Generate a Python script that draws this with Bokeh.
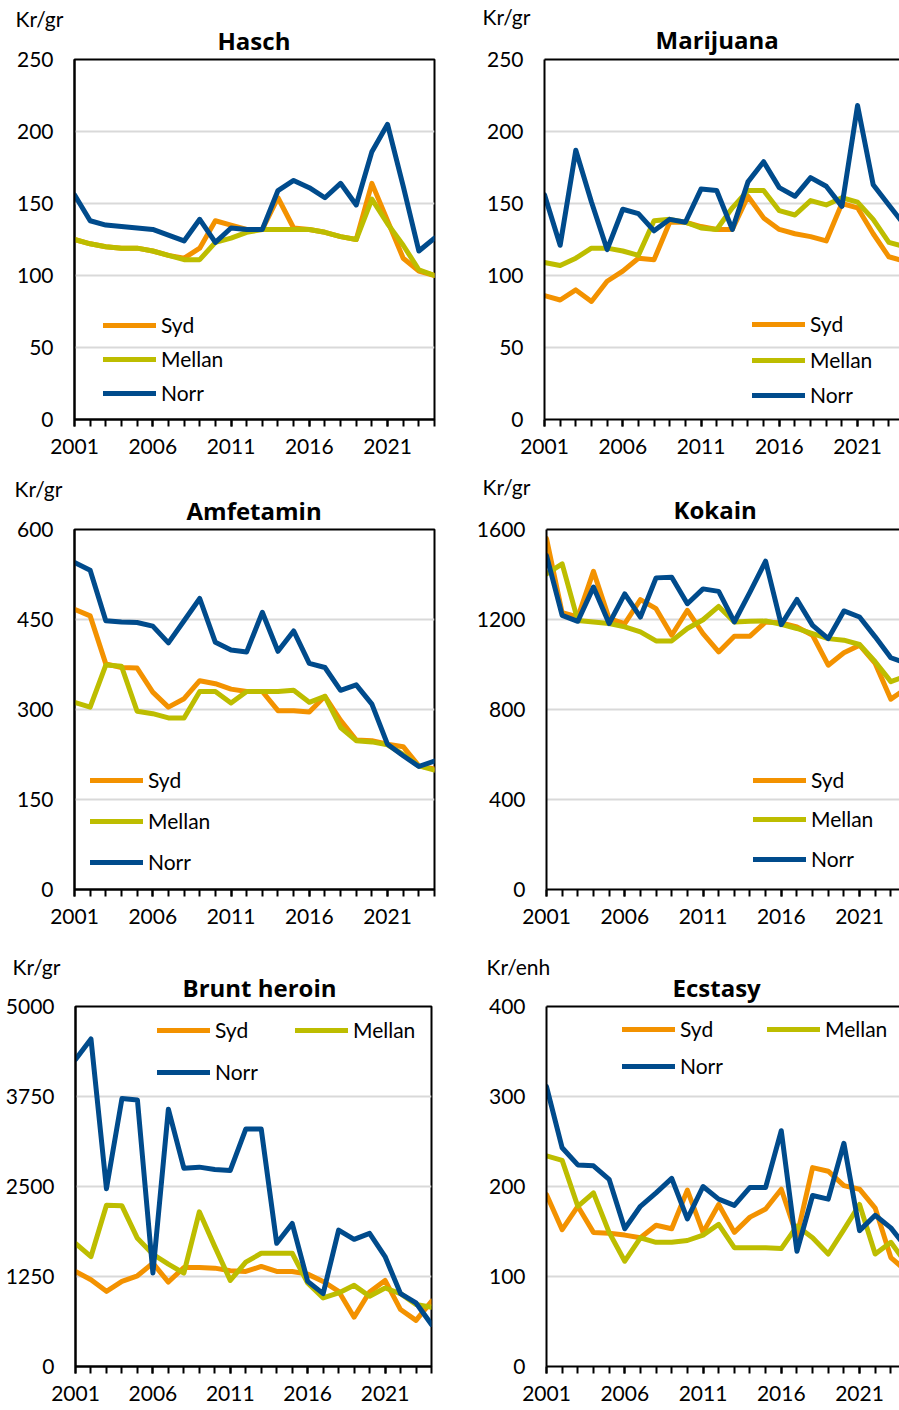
from bokeh.plotting import figure
from bokeh.models import Range1d, FixedTicker, Legend, LegendItem, LinearAxis, Title
from bokeh.layouts import column, row
from bokeh.embed import file_html
from bokeh.resources import INLINE

years = list(range(2001, 2025))
x_major = [2001, 2006, 2011, 2016, 2021]
series_names = ["Syd", "Mellan", "Norr"]

hasch_syd = [125, 122, 120, 119, 119, 117, 114, 112, 119, 138, 135, 132, 132, 154, 133, 132, 130, 127, 125, 164, 138, 112, 103, 100]
hasch_mellan = [125, 122, 120, 119, 119, 117, 114, 111, 111, 123, 126, 130, 132, 132, 132, 132, 130, 127, 125, 153, 136, 121, 104, 100]
hasch_norr = [156, 138, 135, 134, 133, 132, 128, 124, 139, 123, 133, 132, 132, 159, 166, 161, 154, 164, 149, 186, 205, 162, 117, 126]

mari_syd = [86, 83, 90, 82, 96, 103, 112, 111, 137, 137, 134, 132, 132, 155, 140, 132, 129, 127, 124, 150, 147, 129, 113, 110]
mari_mellan = [109, 107, 112, 119, 119, 117, 114, 138, 139, 137, 133, 132, 147, 159, 159, 145, 142, 152, 149, 154, 151, 139, 123, 120]
mari_norr = [156, 121, 187, 151, 118, 146, 143, 131, 139, 137, 160, 159, 132, 165, 179, 161, 155, 168, 162, 148, 218, 163, 149, 135]

amf_syd = [467, 456, 376, 370, 369, 329, 304, 318, 348, 343, 334, 330, 330, 298, 298, 296, 322, 282, 249, 248, 242, 238, 206, 201]
amf_mellan = [312, 304, 374, 372, 297, 293, 286, 286, 330, 330, 311, 330, 330, 330, 332, 312, 322, 270, 248, 246, 241, 225, 206, 199]
amf_norr = [545, 532, 448, 446, 445, 439, 411, 448, 485, 412, 399, 396, 462, 397, 431, 377, 370, 332, 341, 309, 242, 223, 205, 214]

kok_syd = [1560, 1230, 1211, 1414, 1204, 1182, 1288, 1248, 1130, 1241, 1137, 1056, 1126, 1126, 1189, 1185, 1167, 1130, 997, 1052, 1086, 1005, 846, 894]
kok_mellan = [1403, 1447, 1196, 1189, 1182, 1167, 1145, 1105, 1105, 1160, 1199, 1258, 1189, 1192, 1193, 1179, 1160, 1137, 1115, 1108, 1089, 1012, 924, 949]
kok_norr = [1484, 1218, 1192, 1344, 1182, 1314, 1211, 1385, 1388, 1270, 1336, 1325, 1189, 1322, 1459, 1177, 1289, 1174, 1115, 1238, 1211, 1123, 1030, 1005]

bh_syd = [1320, 1205, 1044, 1182, 1260, 1435, 1173, 1375, 1375, 1366, 1329, 1320, 1389, 1320, 1320, 1283, 1182, 1044, 685, 1035, 1196, 791, 640, 906]
bh_mellan = [1711, 1527, 2240, 2231, 1780, 1559, 1421, 1297, 2148, 1665, 1196, 1449, 1573, 1573, 1573, 1159, 952, 1021, 1127, 975, 1090, 1012, 860, 823]
bh_norr = [4264, 4549, 2470, 3721, 3703, 1297, 3574, 2755, 2769, 2737, 2723, 3298, 3298, 1711, 1987, 1182, 1012, 1895, 1766, 1849, 1527, 1012, 883, 584]

ecs_syd = [191, 152, 178, 149, 148, 146, 143, 157, 153, 196, 149, 180, 149, 166, 175, 197, 145, 221, 217, 201, 197, 176, 121, 106]
ecs_mellan = [234, 229, 178, 193, 149, 117, 143, 138, 138, 140, 146, 158, 132, 132, 132, 131, 156, 143, 125, 152, 180, 125, 138, 114]
ecs_norr = [311, 243, 224, 223, 208, 153, 178, 193, 209, 164, 200, 186, 179, 199, 199, 262, 128, 190, 186, 248, 151, 168, 154, 132]

COLORS = ["#F39200", "#BDBD00", "#004B8C"]
FONT = "Lato"
TITLE_FONT = "Open Sans"
PX_PER_YEAR = 360 / 23.0
UNIT_STANDOFF = -25


def make_panel(g, title, unit, yticks, data, leg, left_col, title_left, unit_x, t_standoff):
    bl = g["fl"] - g["cx"]
    bt = g["ft"] - g["cy"]
    br = g["cx"] + g["w"] - (g["fl"] + g["fw"])
    bb = g["cy"] + g["h"] - (g["ft"] + g["fh"])
    xend = 2024 if left_col else 2001 + g["fw"] / PX_PER_YEAR
    p = figure(width=g["w"], height=g["h"], output_backend="svg", toolbar_location=None,
               x_range=Range1d(2001, xend), y_range=Range1d(0, yticks[-1]),
               min_border_left=bl, min_border_top=bt, min_border_right=br, min_border_bottom=bb)
    p.background_fill_color = "white"
    p.border_fill_color = "white"
    if left_col:
        p.outline_line_color = "black"
        p.outline_line_width = 2
    else:
        p.outline_line_color = None
        top = LinearAxis(ticker=FixedTicker(ticks=[]), axis_line_color="black", axis_line_width=2,
                         major_tick_out=0, major_tick_in=0, minor_tick_out=0, minor_tick_in=0,
                         major_label_standoff=0, major_label_text_font_size="0px")
        p.add_layout(top, "above")
    p.xgrid.visible = False
    p.ygrid.ticker = FixedTicker(ticks=yticks)
    p.ygrid.grid_line_color = "#D9D9D9"
    p.ygrid.grid_line_width = 2

    xa = p.below[0]
    xa.ticker = FixedTicker(ticks=x_major, minor_ticks=years)
    xa.axis_line_color = "black"
    xa.axis_line_width = 2
    xa.major_tick_out = 7
    xa.major_tick_in = 0
    xa.minor_tick_out = 7
    xa.minor_tick_in = 0
    xa.major_tick_line_width = 2
    xa.minor_tick_line_width = 2
    xa.major_tick_line_color = "black"
    xa.minor_tick_line_color = "black"
    xa.major_label_text_font = FONT
    xa.major_label_text_font_size = "21px"
    xa.major_label_text_color = "black"
    xa.major_label_standoff = 12

    ya = p.left[0]
    ya.ticker = FixedTicker(ticks=yticks)
    ya.axis_line_color = "black"
    ya.axis_line_width = 2
    ya.major_tick_out = 0
    ya.major_tick_in = 0
    ya.minor_tick_out = 0
    ya.minor_tick_in = 0
    ya.major_label_text_font = FONT
    ya.major_label_text_font_size = "21px"
    ya.major_label_text_color = "black"
    ya.major_label_standoff = 21

    renderers = []
    for vals, col in zip(data, COLORS):
        r = p.line(years, vals, line_color=col, line_width=5, line_join="round", line_cap="round")
        renderers.append(r)

    fbottom = g["ft"] + g["fh"]
    item_h = 24
    for name, r, (gx, gy) in zip(series_names, renderers, leg):
        lg = Legend(items=[LegendItem(label=name, renderers=[r])],
                    location=(gx - g["fl"], fbottom - (gy + item_h / 2)),
                    glyph_width=53, glyph_height=item_h, label_height=item_h, label_standoff=5,
                    padding=0, margin=0, spacing=0, border_line_color=None, background_fill_alpha=0,
                    label_text_font=FONT, label_text_font_size="21px", label_text_color="black")
        p.add_layout(lg)

    t_main = Title(text=title, align="left", offset=title_left - g["fl"], text_font=TITLE_FONT,
                   text_font_size="24px", text_font_style="bold", text_color="black",
                   standoff=t_standoff)
    p.add_layout(t_main, "above")
    t_unit = Title(text=unit, align="left", offset=unit_x - g["fl"], text_font=FONT,
                   text_font_size="21px", text_font_style="normal", text_color="black",
                   standoff=UNIT_STANDOFF)
    p.add_layout(t_unit, "above")
    return p


p1 = make_panel(dict(cx=0, cy=0, w=450, h=470, fl=74, ft=57, fw=360, fh=362),
                "Hasch", "Kr/gr", [0, 50, 100, 150, 200, 250],
                [hasch_syd, hasch_mellan, hasch_norr],
                [(103, 325), (103, 359), (103, 393)], True, 217, 15, 6)
p2 = make_panel(dict(cx=450, cy=0, w=449, h=470, fl=544, ft=59, fw=355, fh=362),
                "Marijuana", "Kr/gr", [0, 50, 100, 150, 200, 250],
                [mari_syd, mari_mellan, mari_norr],
                [(752, 326), (752, 362), (752, 397)], False, 655, 482, 8)
p3 = make_panel(dict(cx=0, cy=470, w=450, h=470, fl=74, ft=527, fw=360, fh=362),
                "Amfetamin", "Kr/gr", [0, 150, 300, 450, 600],
                [amf_syd, amf_mellan, amf_norr],
                [(90, 780), (90, 821), (90, 862)], True, 186, 14, 6)
p4 = make_panel(dict(cx=450, cy=470, w=449, h=470, fl=546, ft=529, fw=353, fh=362),
                "Kokain", "Kr/gr", [0, 400, 800, 1200, 1600],
                [kok_syd, kok_mellan, kok_norr],
                [(753, 782), (753, 821), (753, 861)], False, 673, 482, 8)
p5 = make_panel(dict(cx=0, cy=940, w=450, h=470, fl=75, ft=1003, fw=356, fh=363),
                "Brunt heroin", "Kr/gr", [0, 1250, 2500, 3750, 5000],
                [bh_syd, bh_mellan, bh_norr],
                [(157, 1030), (295, 1030), (157, 1072)], True, 182, 12, 5)
p6 = make_panel(dict(cx=450, cy=940, w=449, h=470, fl=546, ft=1006, fw=353, fh=362),
                "Ecstasy", "Kr/enh", [0, 100, 200, 300, 400],
                [ecs_syd, ecs_mellan, ecs_norr],
                [(622, 1031), (767, 1031), (622, 1068)], False, 672, 486, 5)

layout = column(row(p1, p2), row(p3, p4), row(p5, p6))
open("out.html", "w").write(file_html(layout, INLINE))
